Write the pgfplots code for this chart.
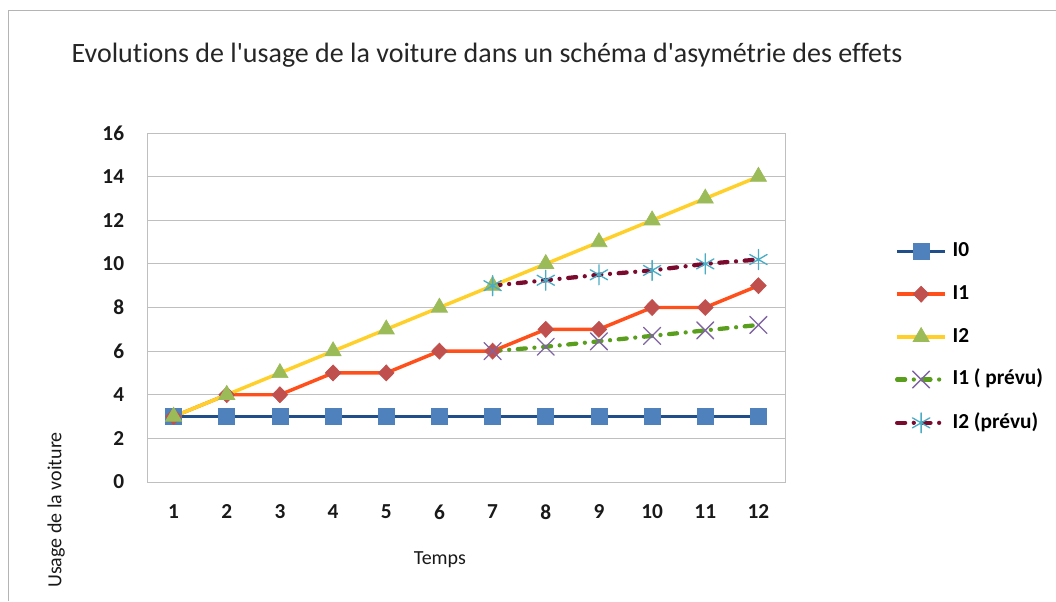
\documentclass[border=0pt]{standalone}
\usepackage{pgfplots}
\pgfplotsset{compat=1.18}
\usepackage{fontspec}
\setmainfont{Carlito}[Ligatures={NoCommon,NoContextual}]
\definecolor{framegray}{HTML}{B4B4B4}
\definecolor{gridgray}{HTML}{BFBFBF}
\definecolor{lzero}{HTML}{1F4E89}
\definecolor{mzero}{HTML}{4F81BD}
\definecolor{lone}{HTML}{FF4F1A}
\definecolor{mone}{HTML}{C0504D}
\definecolor{ltwo}{HTML}{FFD02A}
\definecolor{mtwo}{HTML}{9BBB59}
\definecolor{lonep}{HTML}{5A9E1E}
\definecolor{monep}{HTML}{8064A2}
\definecolor{ltwop}{HTML}{7A0A2E}
\definecolor{mtwop}{HTML}{4BACC6}
\begin{document}
\begin{tikzpicture}
\path[use as bounding box] (0,0) rectangle (792pt,450.75pt);
\draw[color=framegray, line width=0.75pt] (6.375pt,0) -- (6.375pt,442.5pt) -- (792pt,442.5pt);
\node[font=\fontsize{21}{24}\selectfont, text=black!85, inner sep=0pt] at (365.25pt,409.5pt) {Evolut\kern0pt ions de l\textquotesingle usage de la voiture dans un schéma d\textquotesingle asymétrie des effets};
\begin{axis}[
  at={(110.25pt,89.25pt)}, anchor=south west,
  scale only axis, width=478.5pt, height=261.75pt,
  xmin=0.5, xmax=12.5, ymin=0, ymax=16,
  xtick={1,2,...,12}, ytick={0,2,...,16},
  ymajorgrids, grid style={color=gridgray, line width=0.75pt},
  axis line style={color=gridgray, line width=0.75pt},
  major tick length=0pt,
  tick label style={font=\fontsize{16}{16}\selectfont\bfseries, inner sep=0pt, text=black!90},
  /pgf/number format/assume math mode=true,
  yticklabel style={anchor=east, xshift=-17pt},
  xticklabel style={anchor=north, yshift=-17pt},
  xlabel={Temps}, ylabel={Usage de la voiture},
  label style={font=\fontsize{15}{15}\selectfont, text=black!90, inner sep=0pt},
  xlabel style={at={(axis description cs:0.459,-0.2235)}, anchor=center},
  ylabel style={at={(axis description cs:-0.1426,-0.0802)}, anchor=center, rotate=0},
  clip=false,
  legend style={at={(axis description cs:1.172,0.414)}, anchor=west, draw=none, fill=none,
    inner sep=0pt, row sep=18pt, column sep=4pt,
    font=\fontsize{16}{16}\selectfont\bfseries,
    nodes={inner sep=0pt, text height=11pt, text depth=3pt}},
  legend cell align=left,
  legend image code/.code={\draw[mark repeat=2, mark phase=2, #1] plot coordinates {(0pt,0pt) (18pt,0pt) (36pt,0pt)};},
]
\addplot[color=lzero, line width=2.6pt, mark=square*, mark size=6pt, mark options={solid, fill=mzero, draw=mzero, line width=0.5pt}] coordinates {
(1,3) (2,3) (3,3) (4,3) (5,3) (6,3) (7,3) (8,3) (9,3) (10,3) (11,3) (12,3)};
\addlegendentry{I0}
\addplot[color=lone, line width=2.6pt, mark=diamond*, mark size=6pt, mark options={solid, fill=mone, draw=mone, line width=0.5pt, xscale=1.3}] coordinates {
(1,3) (2,4) (3,4) (4,5) (5,5) (6,6) (7,6) (8,7) (9,7) (10,8) (11,8) (12,9)};
\addlegendentry{I1}
\addplot[color=ltwo, line width=2.6pt, mark=triangle*, mark size=7pt, mark options={solid, fill=mtwo, draw=mtwo, line width=0.5pt}] coordinates {
(1,3) (2,4) (3,5) (4,6) (5,7) (6,8) (7,9) (8,10) (9,11) (10,12) (11,13) (12,14)};
\addlegendentry{I2}
\addplot[color=lonep, line width=3.2pt, line cap=round, dash pattern=on 6pt off 6.5pt on 0pt off 6.5pt, mark=x, mark size=9pt, mark options={solid, draw=monep, line width=1pt}] coordinates {
(7,6) (8,6.2) (9,6.45) (10,6.7) (11,6.95) (12,7.2)};
\addlegendentry{I1 ( prévu)}
\addplot[color=ltwop, line width=3.2pt, line cap=round, dash pattern=on 6pt off 6.5pt on 0pt off 6.5pt, mark=asterisk, mark size=7.5pt, mark options={solid, draw=mtwop, line width=1pt}] coordinates {
(7,9) (8,9.25) (9,9.5) (10,9.7) (11,10) (12,10.2)};
\addlegendentry{I2 (prévu)}
\end{axis}
\end{tikzpicture}
\end{document}
